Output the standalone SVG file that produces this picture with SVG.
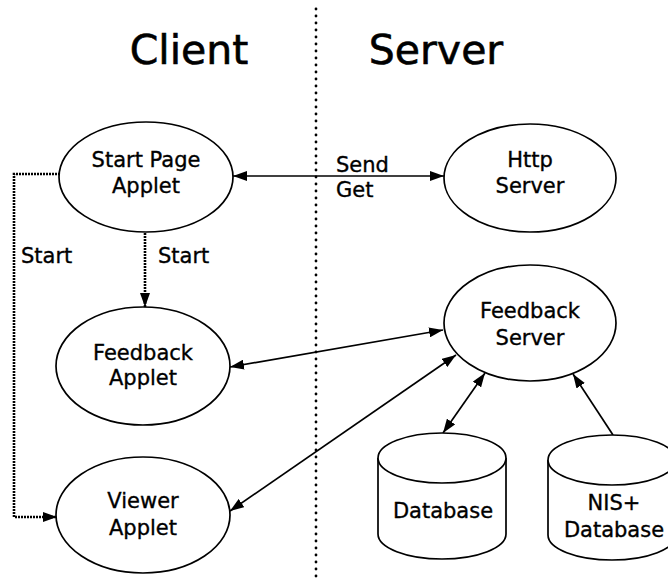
<svg xmlns="http://www.w3.org/2000/svg" width="668" height="583" viewBox="0 0 668 583">
  <style>
    .node { fill: #fff; stroke: #000; stroke-width: 1.7; }
    .lbl { font-family: "DejaVu Sans", "Liberation Sans", sans-serif; font-size: 21px; fill: #000; stroke: #000; stroke-width: 0.35; text-anchor: middle; }
    .title { font-family: "DejaVu Sans", "Liberation Sans", sans-serif; font-size: 41px; fill: #000; stroke: #000; stroke-width: 0.6; text-anchor: middle; }
    .edge { fill: none; stroke: #000; stroke-width: 1.7; }
    .dotted { fill: none; stroke: #000; stroke-width: 2.6; stroke-dasharray: 2 1; }
    .divider { fill: none; stroke: #000; stroke-width: 2.8; stroke-linecap: round; stroke-dasharray: 0 7; }
  </style>
  <defs>
    <marker id="arrow" viewBox="0 0 14 10" refX="14" refY="5" markerWidth="14" markerHeight="10" markerUnits="userSpaceOnUse" orient="auto-start-reverse">
      <path d="M0,0 L14,5 L0,10 Z" fill="#000"/>
    </marker>
  </defs>
  <rect width="668" height="583" fill="#fff"/>

  <!-- client / server split -->
  <path class="divider" d="M316,9 L316,583"/>
  <text class="title" x="189" y="64">Client</text>
  <text class="title" x="436" y="64">Server</text>

  <g id="connectors">
    <path class="edge" d="M233,176 L444,176" marker-start="url(#arrow)" marker-end="url(#arrow)"/>
    <text class="lbl" x="336" y="172" style="text-anchor:start">Send</text>
    <text class="lbl" x="336" y="197" style="text-anchor:start">Get</text>

    <path class="dotted" d="M145,233 L145,307" marker-end="url(#arrow)"/>
    <text class="lbl" x="158" y="263" style="text-anchor:start">Start</text>

    <path class="dotted" d="M60,174 L14,174 L14,517 L57,517" marker-end="url(#arrow)"/>
    <text class="lbl" x="21" y="263" style="text-anchor:start">Start</text>

    <path class="edge" d="M230,367 L443,330" marker-start="url(#arrow)" marker-end="url(#arrow)"/>
    <path class="edge" d="M230,511 L456,355" marker-start="url(#arrow)" marker-end="url(#arrow)"/>
    <path class="edge" d="M443,433 L485,373" marker-start="url(#arrow)" marker-end="url(#arrow)"/>
    <path class="edge" d="M613,435 L573,374" marker-end="url(#arrow)"/>
  </g>

  <g id="start-page-applet">
    <ellipse class="node" cx="146" cy="177" rx="87" ry="55"/>
    <text class="lbl" x="146" y="167">Start Page</text>
    <text class="lbl" x="146" y="193">Applet</text>
  </g>

  <g id="feedback-applet">
    <ellipse class="node" cx="143" cy="366" rx="87" ry="59"/>
    <text class="lbl" x="143" y="360">Feedback</text>
    <text class="lbl" x="143" y="385">Applet</text>
  </g>

  <g id="viewer-applet">
    <ellipse class="node" cx="143" cy="515" rx="87" ry="58"/>
    <text class="lbl" x="143" y="508">Viewer</text>
    <text class="lbl" x="143" y="535">Applet</text>
  </g>

  <g id="http-server">
    <ellipse class="node" cx="530" cy="178" rx="86" ry="54"/>
    <text class="lbl" x="530" y="167">Http</text>
    <text class="lbl" x="530" y="193">Server</text>
  </g>

  <g id="feedback-server">
    <ellipse class="node" cx="530" cy="323" rx="86" ry="58"/>
    <text class="lbl" x="530" y="318">Feedback</text>
    <text class="lbl" x="530" y="345">Server</text>
  </g>

  <g id="database">
    <path class="node" d="M378,458 L378,534 A64,25 0 0 0 506,534 L506,458 A64,25 0 0 0 378,458 Z"/>
    <path class="node" d="M378,458 A64,25 0 0 0 506,458" fill="none"/>
    <text class="lbl" x="443" y="518">Database</text>
  </g>

  <g id="nis-database">
    <path class="node" d="M548,460 L548,535 A64,25 0 0 0 676,535 L676,460 A64,25 0 0 0 548,460 Z"/>
    <path class="node" d="M548,460 A64,25 0 0 0 676,460" fill="none"/>
    <text class="lbl" x="614" y="510">NIS+</text>
    <text class="lbl" x="614" y="537">Database</text>
  </g>
</svg>
